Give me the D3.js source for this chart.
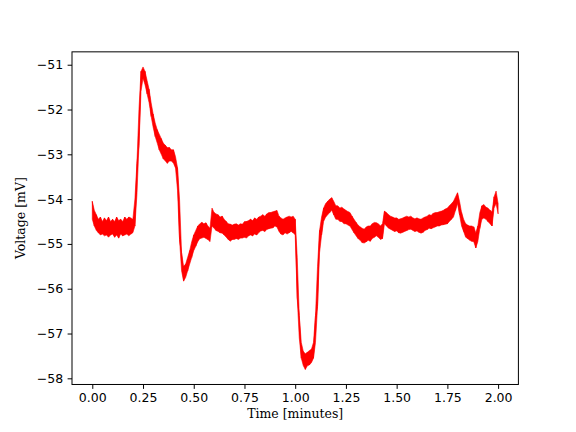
<!DOCTYPE html>
<html><head><meta charset="utf-8">
<script src="https://cdn.jsdelivr.net/npm/d3@7"></script>
<style>body{margin:0;background:#fff}svg{display:block}</style>
</head><body>
<svg id="chart" width="576" height="432"></svg>
<script>
// Time axis: 0.00 .. 2.00 minutes, step 0.01
const timeStart = 0, timeStep = 0.01;
// Upper envelope of the noisy voltage trace [mV]
const voltageHigh = [
-54.05,-54.25,-54.35,-54.45,-54.40,-54.50,-54.42,-54.48,-54.40,-54.50,
-54.45,-54.50,-54.40,-54.48,-54.45,-54.50,-54.40,-54.45,-54.40,-54.42,
-54.45,-54.00,-53.20,-52.00,-51.15,-51.05,-51.15,-51.35,-51.55,-51.85,
-52.10,-52.30,-52.45,-52.55,-52.65,-52.75,-52.80,-52.85,-52.85,-52.90,
-52.90,-53.05,-53.30,-54.00,-55.20,-55.50,-55.45,-55.30,-55.15,-54.95,
-54.80,-54.70,-54.60,-54.55,-54.52,-54.55,-54.53,-54.60,-54.65,-54.20,
-54.30,-54.33,-54.35,-54.40,-54.38,-54.45,-54.50,-54.55,-54.56,-54.58,
-54.56,-54.55,-54.58,-54.55,-54.56,-54.50,-54.50,-54.48,-54.45,-54.48,
-54.42,-54.45,-54.40,-54.38,-54.35,-54.38,-54.33,-54.30,-54.30,-54.28,
-54.27,-54.25,-54.38,-54.42,-54.45,-54.42,-54.40,-54.38,-54.40,-54.38,
-54.45,-55.30,-56.60,-57.20,-57.40,-57.45,-57.42,-57.38,-57.35,-57.20,
-56.60,-55.50,-54.70,-54.40,-54.20,-54.10,-54.05,-54.00,-53.97,-54.05,
-54.15,-54.15,-54.20,-54.18,-54.22,-54.25,-54.28,-54.30,-54.38,-54.45,
-54.52,-54.58,-54.62,-54.65,-54.67,-54.62,-54.60,-54.60,-54.55,-54.52,
-54.53,-54.55,-54.60,-54.55,-54.27,-54.30,-54.35,-54.38,-54.40,-54.42,
-54.42,-54.45,-54.44,-54.42,-54.40,-54.38,-54.40,-54.38,-54.42,-54.44,
-54.42,-54.44,-54.45,-54.42,-54.40,-54.38,-54.35,-54.36,-54.32,-54.30,
-54.30,-54.28,-54.27,-54.25,-54.22,-54.20,-54.15,-54.10,-54.05,-53.95,
-53.86,-54.05,-54.30,-54.45,-54.55,-54.58,-54.60,-54.60,-54.62,-54.75,
-54.60,-54.30,-54.15,-54.12,-54.18,-54.20,-54.25,-54.28,-53.95,-53.82,
-54.10
];
// Lower envelope of the noisy voltage trace [mV]
const voltageLow = [
-54.45,-54.60,-54.70,-54.75,-54.80,-54.78,-54.82,-54.80,-54.85,-54.80,
-54.78,-54.85,-54.80,-54.87,-54.78,-54.82,-54.80,-54.78,-54.82,-54.78,
-54.75,-54.60,-53.90,-52.80,-51.60,-51.30,-51.45,-51.65,-51.85,-52.15,
-52.40,-52.60,-52.75,-52.90,-53.00,-53.10,-53.15,-53.20,-53.15,-53.15,
-53.20,-53.30,-53.80,-54.90,-55.60,-55.83,-55.75,-55.60,-55.45,-55.30,
-55.15,-55.05,-54.95,-54.88,-54.87,-54.85,-54.88,-54.90,-54.95,-54.60,
-54.65,-54.70,-54.72,-54.75,-54.76,-54.80,-54.85,-54.90,-54.94,-54.90,
-54.90,-54.88,-54.90,-54.87,-54.87,-54.85,-54.87,-54.82,-54.80,-54.82,
-54.78,-54.80,-54.75,-54.71,-54.70,-54.72,-54.68,-54.66,-54.65,-54.64,
-54.60,-54.62,-54.72,-54.78,-54.80,-54.75,-54.78,-54.75,-54.72,-54.75,
-54.80,-56.20,-57.10,-57.55,-57.72,-57.80,-57.72,-57.70,-57.65,-57.55,
-57.20,-56.40,-55.20,-54.80,-54.50,-54.40,-54.35,-54.30,-54.25,-54.35,
-54.45,-54.45,-54.50,-54.50,-54.55,-54.55,-54.58,-54.60,-54.68,-54.75,
-54.82,-54.88,-54.92,-54.97,-54.98,-54.95,-54.92,-54.94,-54.88,-54.85,
-54.82,-54.85,-54.90,-54.88,-54.55,-54.60,-54.65,-54.67,-54.70,-54.72,
-54.71,-54.75,-54.76,-54.74,-54.72,-54.70,-54.68,-54.67,-54.70,-54.72,
-54.71,-54.74,-54.76,-54.74,-54.70,-54.68,-54.65,-54.66,-54.64,-54.62,
-54.60,-54.60,-54.58,-54.57,-54.56,-54.55,-54.50,-54.45,-54.40,-54.25,
-54.10,-54.35,-54.60,-54.72,-54.85,-54.88,-54.92,-54.94,-54.95,-55.09,
-54.95,-54.65,-54.45,-54.42,-54.45,-54.50,-54.55,-54.60,-54.20,-54.10,
-54.33
];
const xTicks = [0, 0.25, 0.5, 0.75, 1.0, 1.25, 1.5, 1.75, 2.0];
const yTicks = [-58, -57, -56, -55, -54, -53, -52, -51];
const xLabel = "Time [minutes]";
const yLabel = "Voltage [mV]";

const data = voltageHigh.map((h, i) => ({t: timeStart + i * timeStep, hi: h, lo: voltageLow[i]}));

const W = 576, H = 432;
const m = {left: 72, right: 518.4, top: 51.84, bottom: 384.48};
const svg = d3.select("#chart");
const FS = 12.5;

const tMin = d3.min(data, d => d.t), tMax = d3.max(data, d => d.t);
const vMin = d3.min(data, d => d.lo), vMax = d3.max(data, d => d.hi);
const tPad = (tMax - tMin) * 0.05, vPad = (vMax - vMin) * 0.05;
const x = d3.scaleLinear().domain([tMin - tPad, tMax + tPad]).range([m.left, m.right]);
const y = d3.scaleLinear().domain([vMin - vPad, vMax + vPad]).range([m.bottom, m.top]);

svg.append("defs").append("clipPath").attr("id", "clip")
  .append("rect").attr("x", m.left).attr("y", m.top)
  .attr("width", m.right - m.left).attr("height", m.bottom - m.top);

const g = svg.append("g").attr("clip-path", "url(#clip)");
g.append("path").datum(data)
  .attr("d", d3.area().x(d => x(d.t)).y0(d => y(d.lo)).y1(d => y(d.hi)))
  .attr("fill", "#ff0000").attr("stroke", "#ff0000").attr("stroke-width", 0.6);
// zig-zag between envelope edges to give the noisy texture
g.append("path").datum(data)
  .attr("d", d3.line().x(d => x(d.t)).y((d, i) => y(i % 2 ? d.lo : d.hi)))
  .attr("fill", "none").attr("stroke", "#ff0000").attr("stroke-width", 0.8);

const fmtMinus = s => s.replace("-", "\u2212");
const xAxis = d3.axisBottom(x).tickValues(xTicks).tickFormat(d => d3.format(".2f")(d))
  .tickSizeInner(4.4).tickSizeOuter(0).tickPadding(4.4);
const yAxis = d3.axisLeft(y).tickValues(yTicks).tickFormat(d => fmtMinus(d3.format("d")(d)))
  .tickSizeInner(4.4).tickSizeOuter(0).tickPadding(4.4);

const gx = svg.append("g").attr("transform", `translate(0,${m.bottom})`).call(xAxis);
const gy = svg.append("g").attr("transform", `translate(${m.left},0)`).call(yAxis);
[gx, gy].forEach(a => {
  a.select(".domain").remove();
  a.selectAll(".tick line").attr("stroke", "#000").attr("stroke-width", 1);
  a.selectAll(".tick text").attr("fill", "#000")
    .style("font-family", "'DejaVu Sans', sans-serif").style("font-size", FS + "px");
});

svg.append("rect").attr("x", m.left).attr("y", m.top)
  .attr("width", m.right - m.left).attr("height", m.bottom - m.top)
  .attr("fill", "none").attr("stroke", "#000").attr("stroke-width", 1);

svg.append("text").attr("x", (m.left + m.right) / 2).attr("y", 418)
  .attr("text-anchor", "middle")
  .style("font-family", "'DejaVu Serif', serif").style("font-size", FS + "px")
  .text(xLabel);
svg.append("text").attr("transform", `translate(25,${(m.top + m.bottom) / 2}) rotate(-90)`)
  .attr("text-anchor", "middle")
  .style("font-family", "'DejaVu Serif', serif").style("font-size", FS + "px")
  .text(yLabel);
</script>
</body></html>
